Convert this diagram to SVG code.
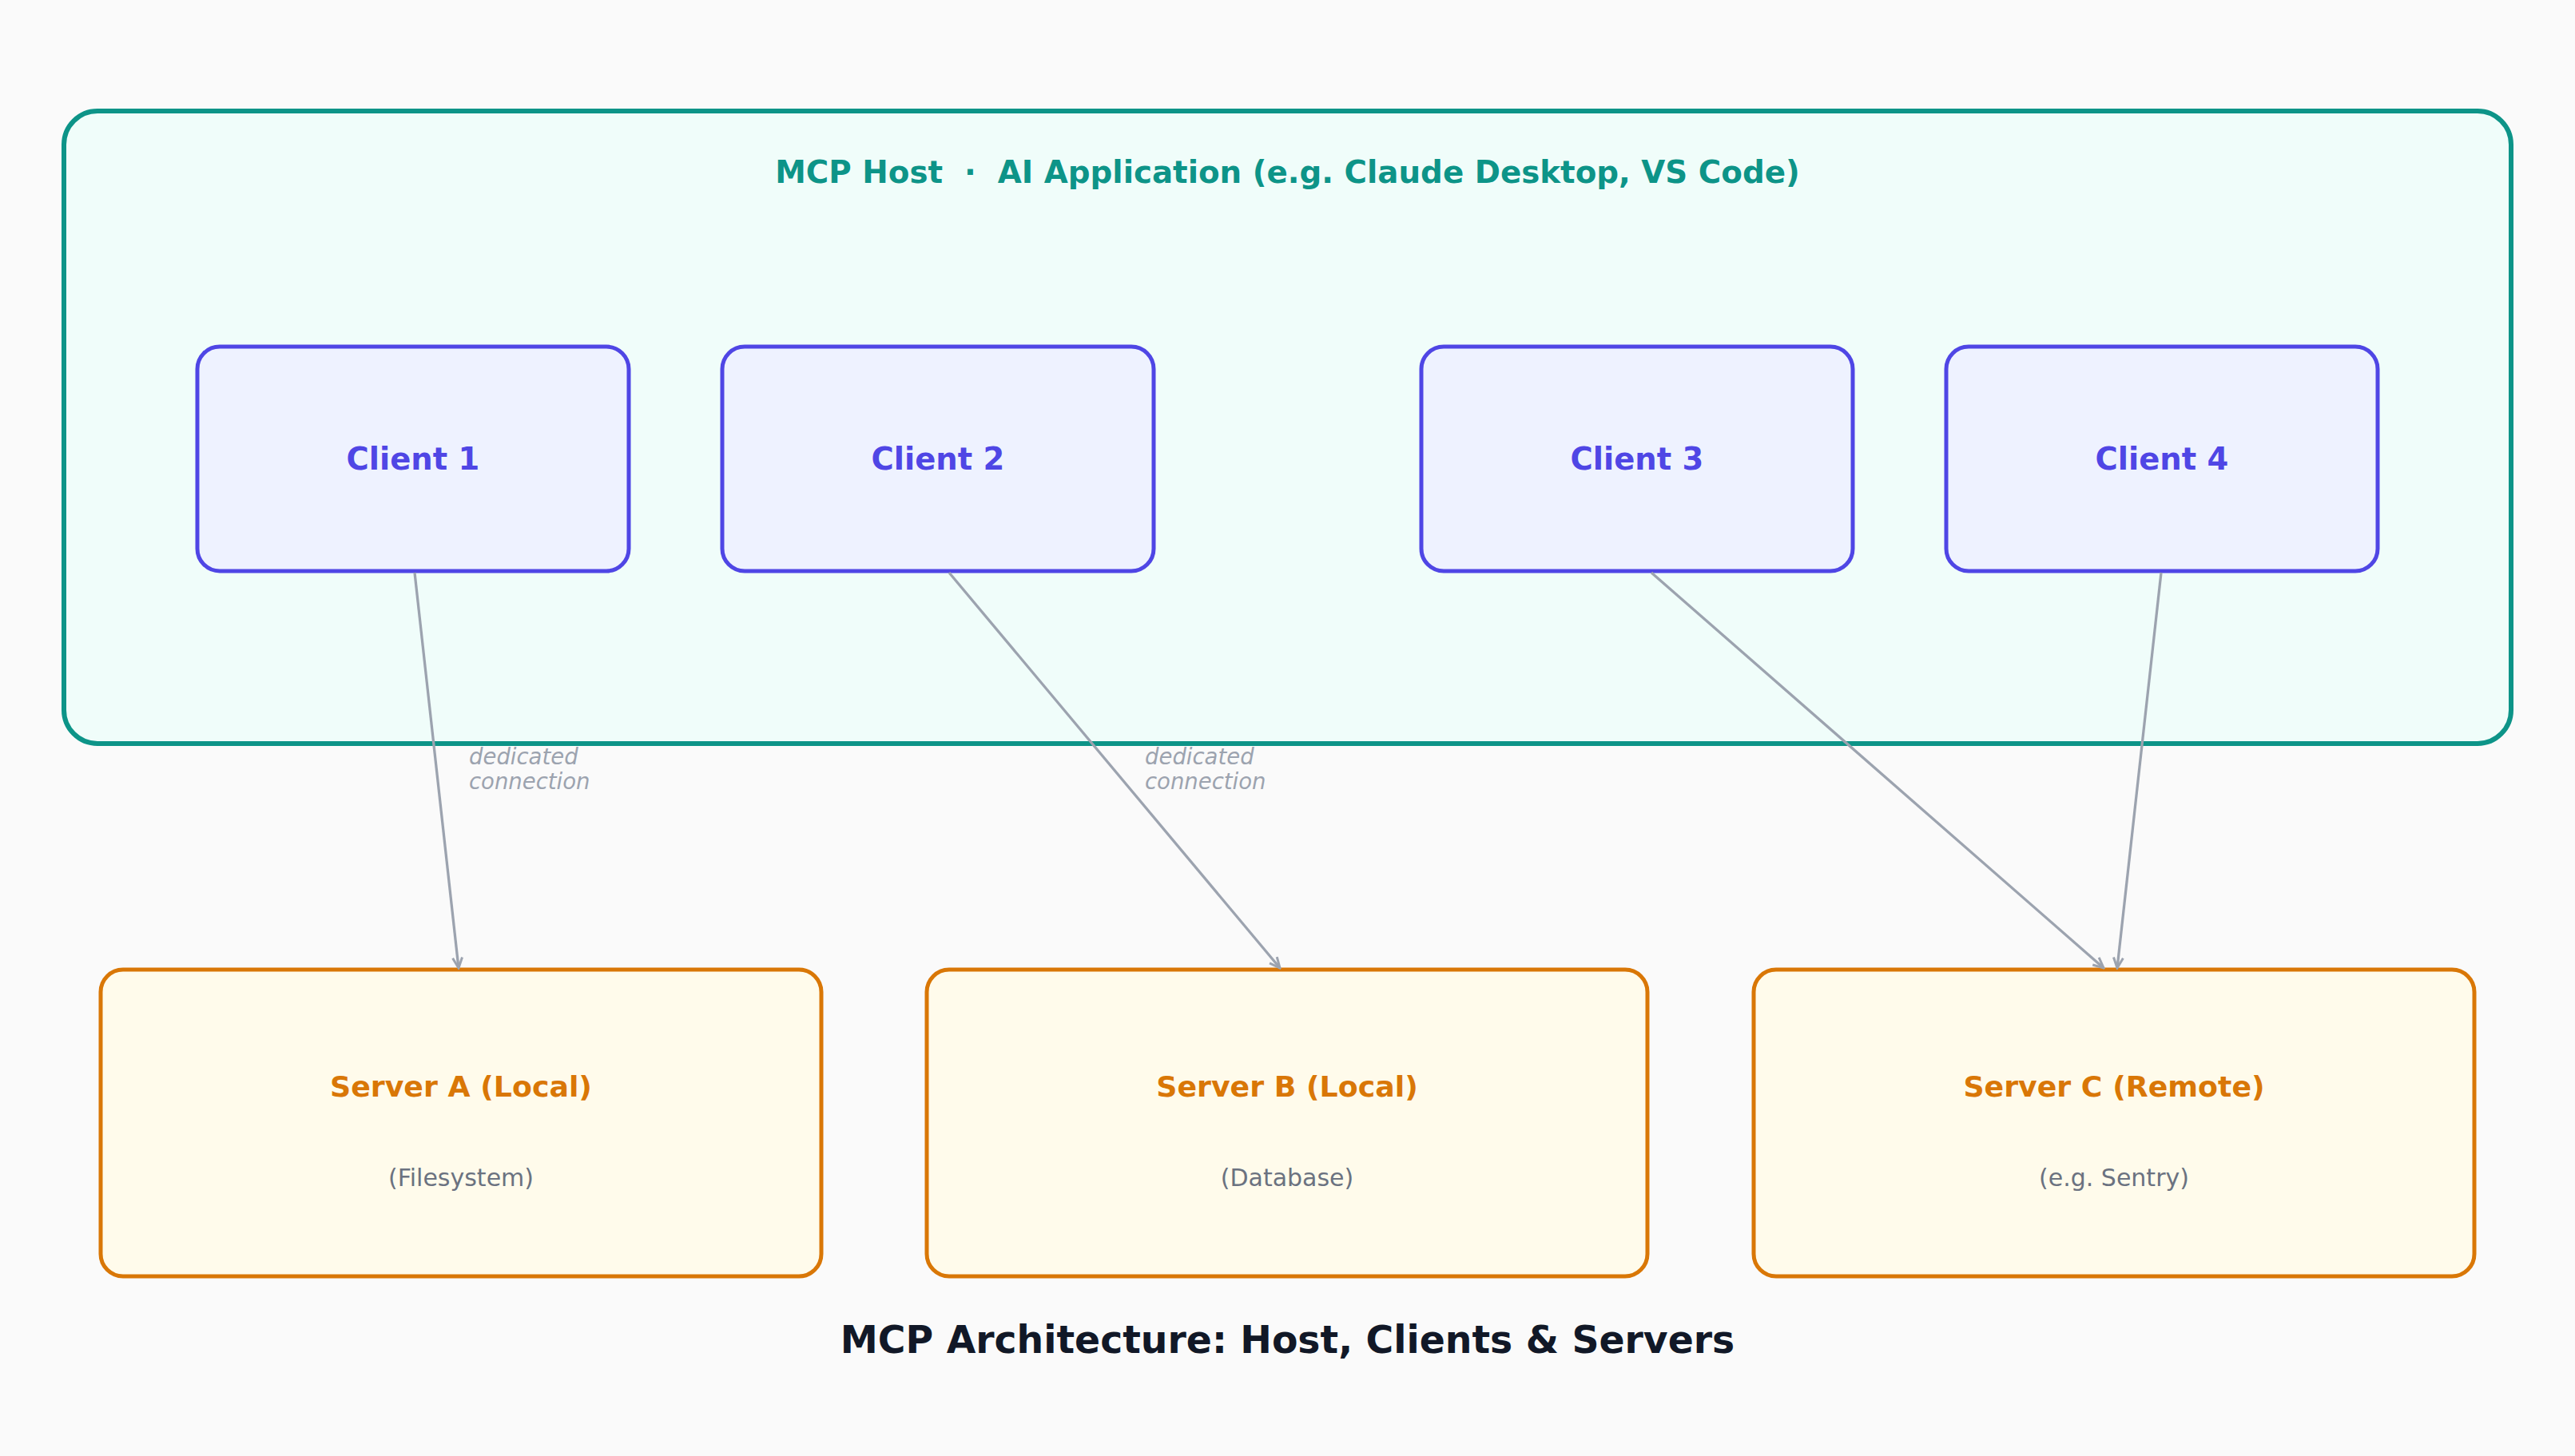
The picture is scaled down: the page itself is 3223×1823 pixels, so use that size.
<svg xmlns="http://www.w3.org/2000/svg" width="3223" height="1823" viewBox="0 0 3223 1823">
<style>
  text { font-family: "DejaVu Sans", "Liberation Sans", sans-serif; }
  .host { fill: #f0fdfa; stroke: #0d9488; stroke-width: 6; }
  .host-title { fill: #0d9488; font-weight: bold; font-size: 38.8px; }
  .client { fill: #eef2ff; stroke: #4f46e5; stroke-width: 5; }
  .client-t { fill: #4f46e5; font-weight: bold; font-size: 38.5px; }
  .server { fill: #fffbeb; stroke: #d97706; stroke-width: 5; }
  .server-t { fill: #d97706; font-weight: bold; font-size: 36.3px; }
  .server-s { fill: #6b7280; font-size: 30px; }
  .edge { stroke: #9ca3af; stroke-width: 3.3; fill: none; }
  .lbl { fill: #9ca3af; font-style: italic; font-size: 27.5px; }
  .title { fill: #111827; font-weight: bold; font-size: 47.3px; }
</style>
<defs>
  <marker id="arr" markerUnits="userSpaceOnUse" markerWidth="18" markerHeight="18" viewBox="0 0 18 18" refX="16" refY="9" orient="auto">
    <path d="M3,3 L16,9 L3,15" fill="none" stroke="#9ca3af" stroke-width="3"/>
  </marker>
</defs>
<rect width="3223" height="1823" fill="#fafafa"/>

<g id="host">
  <rect class="host" x="80" y="139" width="3063" height="792" rx="42"/>
  <text class="host-title" x="1611.5" y="229" text-anchor="middle" xml:space="preserve">MCP Host  ·  AI Application (e.g. Claude Desktop, VS Code)</text>
</g>

<g id="client1">
  <rect class="client" x="247" y="434" width="540" height="281" rx="28"/>
  <text class="client-t" x="517" y="588" text-anchor="middle">Client 1</text>
</g>
<g id="client2">
  <rect class="client" x="904" y="434" width="540" height="281" rx="28"/>
  <text class="client-t" x="1174" y="588" text-anchor="middle">Client 2</text>
</g>
<g id="client3">
  <rect class="client" x="1779" y="434" width="540" height="281" rx="28"/>
  <text class="client-t" x="2049" y="588" text-anchor="middle">Client 3</text>
</g>
<g id="client4">
  <rect class="client" x="2436" y="434" width="540" height="281" rx="28"/>
  <text class="client-t" x="2706" y="588" text-anchor="middle">Client 4</text>
</g>

<g id="serverA">
  <rect class="server" x="126" y="1214" width="902" height="384" rx="28"/>
  <text class="server-t" x="577" y="1373" text-anchor="middle">Server A (Local)</text>
  <text class="server-s" x="577" y="1485" text-anchor="middle">(Filesystem)</text>
</g>
<g id="serverB">
  <rect class="server" x="1160" y="1214" width="902" height="384" rx="28"/>
  <text class="server-t" x="1611" y="1373" text-anchor="middle">Server B (Local)</text>
  <text class="server-s" x="1611" y="1485" text-anchor="middle">(Database)</text>
</g>
<g id="serverC">
  <rect class="server" x="2195" y="1214" width="902" height="384" rx="28"/>
  <text class="server-t" x="2646" y="1373" text-anchor="middle">Server C (Remote)</text>
  <text class="server-s" x="2646" y="1485" text-anchor="middle">(e.g. Sentry)</text>
</g>

<g id="connectors">
  <line class="edge" x1="519" y1="717" x2="574" y2="1212" marker-end="url(#arr)"/>
  <line class="edge" x1="1188" y1="717" x2="1602" y2="1212" marker-end="url(#arr)"/>
  <line class="edge" x1="2067" y1="717" x2="2633" y2="1212" marker-end="url(#arr)"/>
  <line class="edge" x1="2705" y1="717" x2="2650" y2="1212" marker-end="url(#arr)"/>
  <text class="lbl" x="587" y="957">dedicated</text>
  <text class="lbl" x="587" y="988">connection</text>
  <text class="lbl" x="1433" y="957">dedicated</text>
  <text class="lbl" x="1433" y="988">connection</text>
</g>

<text class="title" x="1611.5" y="1694" text-anchor="middle">MCP Architecture: Host, Clients &amp; Servers</text>
</svg>
